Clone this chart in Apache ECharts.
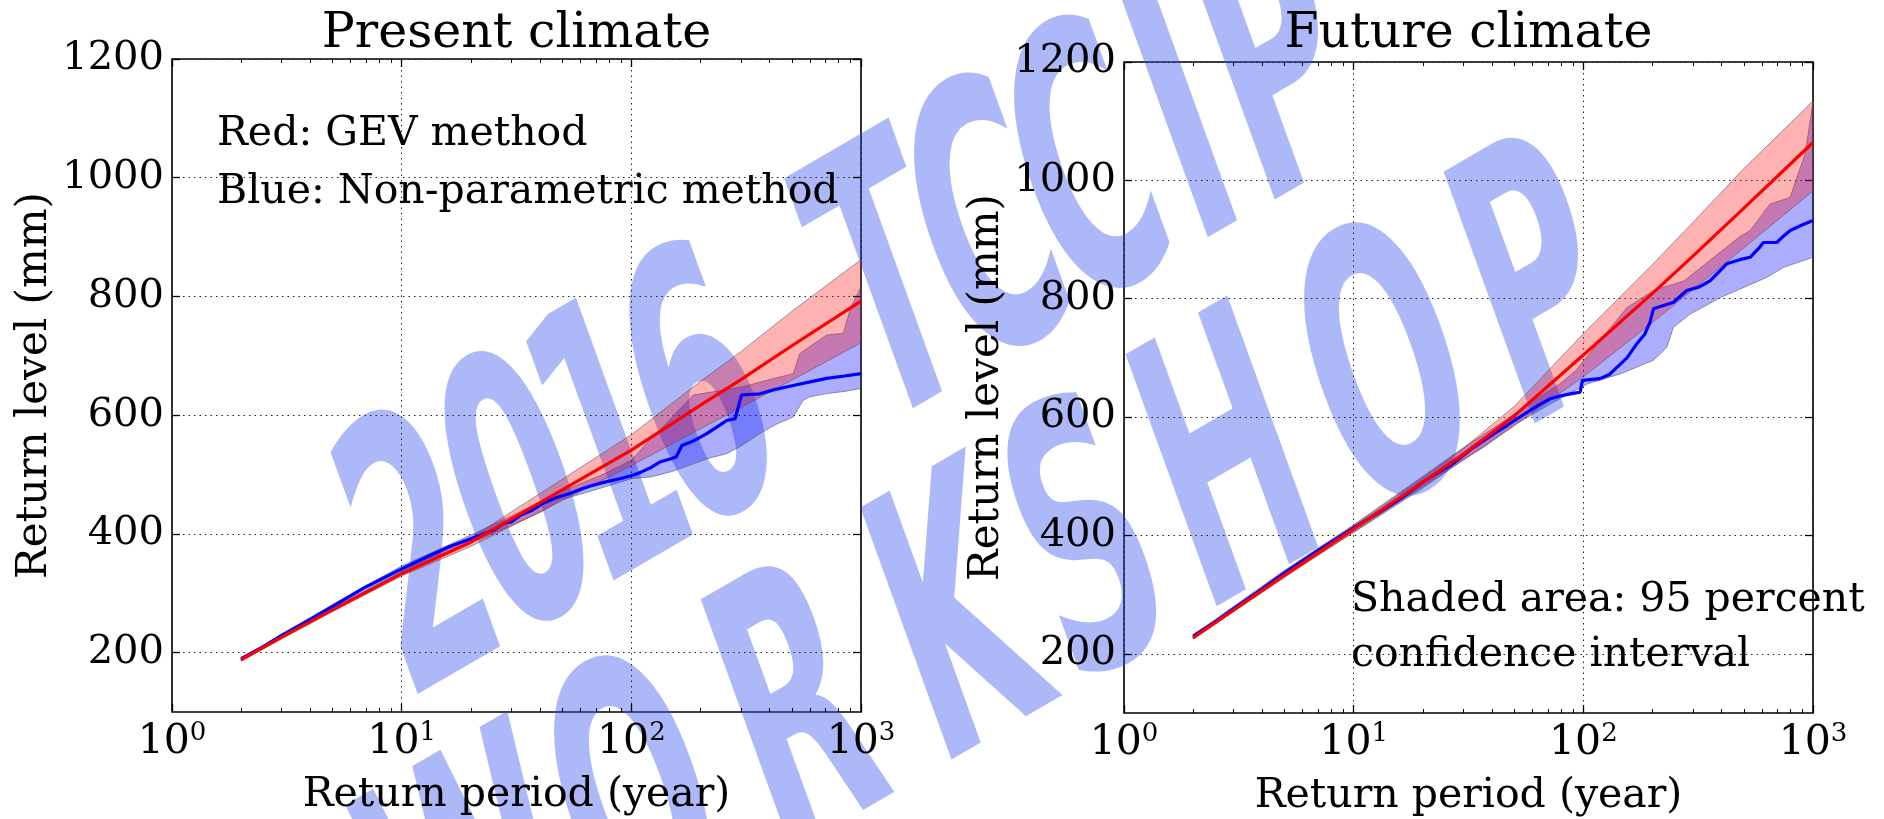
<!DOCTYPE html>
<html><head><meta charset="utf-8">
<script src="https://cdn.jsdelivr.net/npm/echarts@6/dist/echarts.min.js"></script>
<style>html,body{margin:0;padding:0;background:#fff}#c{width:1884px;height:819px}</style>
</head><body><div id="c"></div>
<script>
// ---------- DATA ----------
const titles = ['Present climate', 'Future climate'];
const xDecades = [1, 10, 100, 1000];
const xMinor = [2,3,4,5,6,7,8,9,20,30,40,50,60,70,80,90,200,300,400,500,600,700,800,900];
const yTicks = [200, 400, 600, 800, 1000, 1200];

// Present climate - GEV (red)
const presentRedT = [2,3,5,10,20,30,50,100,200,300,500,1000];
const presentRed = [188,226,272,333,386,425,474,541,617,660,717,792];
const presentRedUpper = [190,229,275,337,393,437,492,567,657,707,775,862];
const presentRedLower = [186,223,269,329,379,413,456,515,577,613,659,722];
// Present climate - non-parametric (blue)
const presentBlueT = [2,2.5,3,4,5,7,10,13,16,20,25,28,30,33,37,41,47,54,61,68,78,89,100,110,122,133,150,157,166,185,213,240,260,283,302,363,420,507,600,708,850,1000];
const presentBlue = [190,210,229,256,278,311,341,362,378,392,406,418,420,432,440,451,461,468,476,482,488,493,498,504,512,521,527,530,549,556,569,582,591,594,634,636,643,650,656,662,666,670];
const presentBlueLowT = [2,5,10,20,30,41,49,68,100,122,150,186,220,260,300,363,430,507,560,600,700,850,1000];
const presentBlueLow = [186,273,335,385,414,438,457,473,493,496,505,518,528,535,548,569,585,597,625,631,636,640,645];
const presentBlueUpT = [2,5,10,20,30,50,75,100,116,142,186,250,307,400,507,542,708,837,900,1000];
const presentBlueUp = [191,281,346,398,430,472,500,524,552,586,634,642,648,660,670,704,735,738,780,816];

// Future climate - GEV (red)
const futureRedT = [2,3,5,10,20,30,50,100,200,300,500,1000];
const futureRed = [227,274,333,411,490,537,602,705,809,872,953,1064];
const futureRedUpper = [229,277,337,416,497,547,618,741,858,929,1020,1134];
const futureRedLower = [225,271,329,406,483,527,586,668,760,815,886,982];
// Future climate - non-parametric (blue)
const futureBlueT = [2,2.5,3,4,5,7,10,13,16,20,23,26.3,30,33,36.8,42,47,51.4,58,65,71.7,80,90,96.9,99,118,130,140,155,171,185,195,202,247,282,320,356,400,421,480,532,580,608,695,740,794,900,1000];
const futureBlue = [230,254,276,310,337,375,413,440,462,490,505,518,535,548,560,575,587,597,610,622,631,636,640,642,662,665,672,684,700,724,740,760,783,794,814,820,830,850,859,866,870,885,895,895,905,915,925,932];
const futureBlueLowT = [2,5,10,20,30,36.8,51.4,71.7,104,145,202,231,247,292,396,629,745,1000];
const futureBlueLow = [226,331,405,480,528,549,589,622,656,673,696,718,752,774,802,836,853,870];
const futureBlueUpT = [2,5,10,20,30,43.5,60.7,79,93,118,155,202,274,370,480,532,650,794,923,1000];
const futureBlueUp = [232,341,418,500,548,589,628,656,679,729,785,814,830,870,905,915,960,971,1044,1132];

const annotations = [
  {text: 'Red: GEV method', x: 217, y: 134},
  {text: 'Blue: Non-parametric method', x: 217, y: 192},
  {text: 'Shaded area: 95 percent', x: 1351, y: 600},
  {text: 'confidence interval', x: 1351, y: 655}
];
const watermarkLine1 = ['2','0','1','6','T','C','C','I','P'];
const watermarkLine1Pos = [[427,580],[527,522],[617,470],[707,418],[895,310],[995,252],[1095,194],[1190,139],[1285,85]];
const watermarkLine2 = ['W','O','R','K','S','H','O','P'];
const watermarkLine2Pos = [[485,920],[645,828],[805,735],[965,643],[1095,568],[1235,487],[1395,395],[1545,309]];

// ---------- CHART ----------
const FONT = 'DejaVu Serif';
const grids = [
  {left: 172, top: 59, width: 689, height: 653},
  {left: 1124, top: 62, width: 689, height: 651}
];
const dotted = {type: [1.5, 4], color: '#222', width: 1};

const xAxis = [], yAxis = [];
grids.forEach((g, gi) => {
  const base = {gridIndex: gi, type: 'log', logBase: 10, min: 1, max: 1000,
    axisLine: {show: false}, splitLine: {show: false}, axisLabel: {show: false}, nameMoveOverlap: false};
  xAxis.push(Object.assign({}, base, {
    position: 'bottom',
    axisTick: {show: true, inside: true, length: 8, customValues: xDecades, lineStyle: {color: '#000', width: 1.3}},
    axisLabel: {show: true, customValues: xDecades, margin: 8,
      formatter: v => '{n|10}{s|' + Math.round(Math.log10(v)) + '}',
      rich: {
        n: {fontSize: 41, fontFamily: FONT, color: '#000', lineHeight: 44},
        s: {fontSize: 26, fontFamily: FONT, color: '#000', verticalAlign: 'top', lineHeight: 26}
      }},
    splitLine: {show: true, lineStyle: dotted},
    name: 'Return period (year)', nameLocation: 'middle', nameGap: 63,
    nameTextStyle: {fontSize: 41, fontFamily: FONT, color: '#000'}
  }));
  xAxis.push(Object.assign({}, base, {position: 'bottom',
    axisTick: {show: true, inside: true, length: 4, customValues: xMinor, lineStyle: {color: '#000', width: 1}}}));
  xAxis.push(Object.assign({}, base, {position: 'top',
    axisTick: {show: true, inside: true, length: 8, customValues: xDecades, lineStyle: {color: '#000', width: 1.3}}}));
  xAxis.push(Object.assign({}, base, {position: 'top',
    axisTick: {show: true, inside: true, length: 4, customValues: xMinor, lineStyle: {color: '#000', width: 1}}}));
  yAxis.push({gridIndex: gi, type: 'value', min: 100, max: 1200, position: 'left',
    axisLine: {show: false},
    axisTick: {show: true, inside: true, length: 8, customValues: yTicks, lineStyle: {color: '#000', width: 1.3}},
    axisLabel: {customValues: yTicks, fontSize: 40, fontFamily: FONT, color: '#000', margin: 8,
      formatter: v => String(v)},
    splitLine: {show: true, lineStyle: dotted},
    name: 'Return level (mm)', nameLocation: 'middle', nameGap: 116, nameMoveOverlap: false,
    nameTextStyle: {fontSize: 42, fontFamily: FONT, color: '#000'}
  });
  yAxis.push({gridIndex: gi, type: 'value', min: 100, max: 1200, position: 'right',
    axisLine: {show: false},
    axisTick: {show: true, inside: true, length: 8, customValues: yTicks, lineStyle: {color: '#000', width: 1.3}},
    axisLabel: {show: false}, splitLine: {show: false}});
});

function band(xi, yi, upT, up, lowT, low, fill) {
  return {
    type: 'custom', xAxisIndex: xi, yAxisIndex: yi, silent: true, z: 2,
    data: [[10, 500]],
    renderItem: (params, api) => {
      const pts = [];
      for (let i = 0; i < upT.length; i++) pts.push(api.coord([upT[i], up[i]]));
      for (let i = lowT.length - 1; i >= 0; i--) pts.push(api.coord([lowT[i], low[i]]));
      return {type: 'polygon', shape: {points: pts},
        style: {fill: fill, stroke: 'rgba(80,80,80,0.55)', lineWidth: 1}};
    }
  };
}
function line(xi, yi, T, V, color) {
  return {type: 'line', xAxisIndex: xi, yAxisIndex: yi, z: 3, showSymbol: false, silent: true,
    data: T.map((t, i) => [t, V[i]]), lineStyle: {color: color, width: 3.2}, itemStyle: {color: color}};
}
const BLUEFILL = 'rgba(0,0,255,0.32)', REDFILL = 'rgba(255,0,0,0.3)';
const series = [
  band(0, 0, presentBlueUpT, presentBlueUp, presentBlueLowT, presentBlueLow, BLUEFILL),
  band(0, 0, presentRedT, presentRedUpper, presentRedT, presentRedLower, REDFILL),
  line(0, 0, presentBlueT, presentBlue, '#0000ff'),
  line(0, 0, presentRedT, presentRed, '#ff0000'),
  band(4, 2, futureBlueUpT, futureBlueUp, futureBlueLowT, futureBlueLow, BLUEFILL),
  band(4, 2, futureRedT, futureRedUpper, futureRedT, futureRedLower, REDFILL),
  line(4, 2, futureBlueT, futureBlue, '#0000ff'),
  line(4, 2, futureRedT, futureRed, '#ff0000')
];

const graphics = [];
titles.forEach((t, i) => {
  const g = grids[i];
  graphics.push({type: 'text', z: 50, style: {text: t, x: g.left + g.width / 2, y: 34,
    fontSize: 49, fontFamily: FONT, fill: '#000', align: 'center', verticalAlign: 'middle'}});
});
annotations.forEach(a => graphics.push({type: 'text', z: 50, style: {text: a.text, x: a.x, y: a.y,
  fontSize: 41, fontFamily: FONT, fill: '#000', align: 'left', verticalAlign: 'middle'}}));

const SQ = 0.79, ROT = 24.6 * Math.PI / 180;
const wmChildren = [];
function addWm(chars, pos) {
  chars.forEach((ch, i) => wmChildren.push({type: 'text', x: pos[i][0] / SQ, y: pos[i][1], rotation: ROT, scaleX: 0.57,
    style: {text: ch, fontSize: 380, fontWeight: 'bold', fontFamily: 'DejaVu Sans', fill: 'rgba(60,85,240,0.42)',
      align: 'center', verticalAlign: 'middle'}}));
}
addWm(watermarkLine1, watermarkLine1Pos);
addWm(watermarkLine2, watermarkLine2Pos);
graphics.push({type: 'group', z: 100, scaleX: SQ, x: 0, y: 0, silent: true, children: wmChildren});

const chart = echarts.init(document.getElementById('c'), null, {renderer: 'canvas'});
chart.setOption({
  animation: false,
  backgroundColor: '#fff',
  grid: grids.map(g => Object.assign({show: true, borderColor: '#000', borderWidth: 1.6, backgroundColor: 'transparent', outerBoundsMode: 'none'}, g)),
  xAxis: xAxis, yAxis: yAxis, series: series, graphic: graphics
});
</script></body></html>
